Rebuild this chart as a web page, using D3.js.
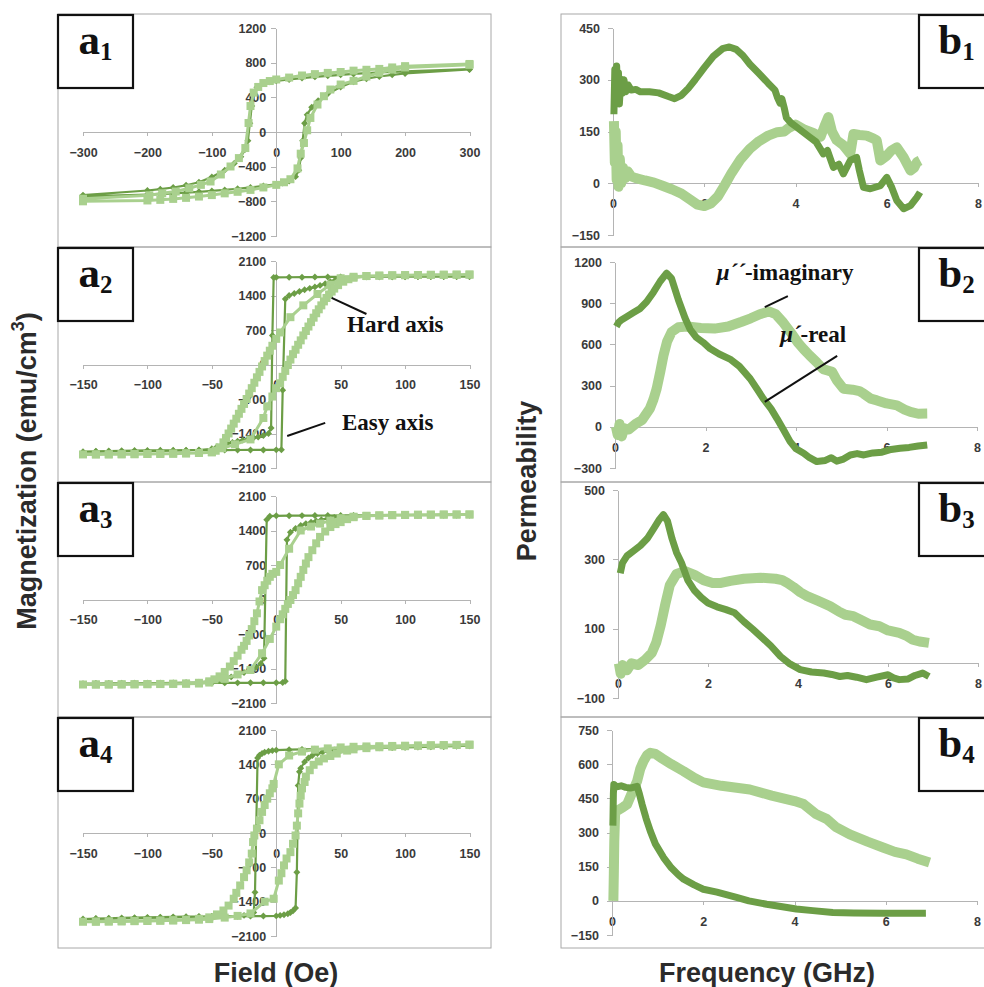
<!DOCTYPE html>
<html lang="en">
<head>
<meta charset="UTF-8">
<title>Hysteresis loops and permeability spectra</title>
<script src="https://cdn.jsdelivr.net/npm/d3@7"></script>
<style>
  body { margin: 0; background: #fff; }
  .axis path, .axis line { fill: none; stroke: #b4b4b4; shape-rendering: crispEdges; }
  .axis text { font-family: "Liberation Sans", Arial, sans-serif; font-size: 12.5px; font-weight: bold; fill: #3a3a3a; }
  .title { font-family: "Liberation Sans", Arial, sans-serif; font-weight: bold; font-size: 27px; fill: #2b2b2b; }
  .tag { font-family: "Liberation Serif", "Times New Roman", serif; font-weight: bold; fill: #111; }
  .note { font-family: "Liberation Serif", "Times New Roman", serif; font-weight: bold; font-size: 23px; fill: #111; }
</style>
</head>
<body>
<script>
// ---- tick labels ----
const a1XTicks = [-300, -200, -100, 0, 100, 200, 300]
const a1YTicks = [-1200, -800, -400, 0, 400, 800, 1200]
const aXTicks = [-150, -100, -50, 0, 50, 100, 150]
const aYTicks = [-2100, -1400, -700, 0, 700, 1400, 2100]
const bXTicks = [0, 2, 4, 6, 8]
const b1YTicks = [-150, 0, 150, 300, 450]
const b2YTicks = [-300, 0, 300, 600, 900, 1200]
const b3YTicks = [-100, 100, 300, 500]
const b4YTicks = [-150, 0, 150, 300, 450, 600, 750]

// ---- hysteresis loops [field Oe, magnetization emu/cm3] ----
// easy axis = dark diamonds, hard axis = light squares
const a1Easy = [[300,725],[200,700],[180,694],[160,687],[140,680],[120,670],[100,660],[80,648],[60,636],[40,622],[20,606],[0,590],[-10,578],[-20,558],[-30,515],[-35,440],[-38,300],[-41,100],[-44,-100],[-48,-200],[-55,-285],[-65,-360],[-80,-440],[-100,-520],[-120,-580],[-140,-615],[-160,-640],[-180,-660],[-200,-675],[-300,-728],
  [-300,-742],[-200,-722],[-180,-716],[-160,-708],[-140,-700],[-120,-690],[-100,-680],[-80,-668],[-60,-655],[-40,-640],[-20,-622],[0,-605],[10,-590],[20,-565],[30,-515],[35,-440],[38,-300],[41,-100],[44,100],[48,200],[55,285],[65,360],[80,440],[100,520],[120,580],[140,615],[160,640],[180,660],[200,675],[300,722]]
const a1Hard = [[300,785],[200,760],[180,745],[160,728],[140,718],[120,708],[100,692],[80,682],[60,668],[40,652],[20,628],[0,606],[-10,588],[-20,565],[-28,520],[-35,455],[-40,300],[-43,104],[-48,-185],[-58,-301],[-71,-398],[-86,-490],[-102,-571],[-117,-610],[-135,-649],[-156,-687],[-177,-707],[-197,-730],[-300,-770],
  [-300,-800],[-200,-790],[-180,-783],[-160,-772],[-140,-760],[-120,-745],[-100,-728],[-80,-708],[-60,-690],[-40,-668],[-20,-640],[0,-610],[12,-580],[22,-545],[33,-420],[38,-250],[43,-127],[48,20],[53,162],[64,317],[74,413],[84,490],[100,548],[120,590],[140,640],[160,683],[180,720],[200,745],[300,775]]

const a2Easy = [[150,1785],[140,1785],[130,1784],[120,1784],[110,1783],[100,1782],[90,1782],[80,1781],[70,1780],[60,1780],[50,1778],[40,1776],[30,1774],[20,1772],[10,1770],[0,1768],[-2,1765],[-3,590],[-4,-1290],[-6,-1400],[-10,-1440],[-14,-1470],[-18,-1495],[-22,-1515],[-26,-1535],[-30,-1555],[-34,-1580],[-38,-1605],[-42,-1635],[-46,-1670],[-50,-1710],[-60,-1735],[-70,-1745],[-80,-1750],[-90,-1755],[-100,-1758],[-110,-1760],[-120,-1762],[-130,-1764],[-140,-1766],[-150,-1768],
  [-140,-1760],[-130,-1755],[-120,-1750],[-110,-1746],[-100,-1743],[-90,-1741],[-80,-1740],[-70,-1739],[-60,-1738],[-50,-1737],[-40,-1736],[-30,-1735],[-20,-1734],[-10,-1733],[0,-1732],[4,-1730],[5,-520],[7,1330],[10,1400],[14,1440],[18,1480],[22,1515],[26,1545],[30,1575],[34,1605],[38,1640],[42,1680],[46,1720],[50,1750],[60,1770],[70,1778],[80,1781],[90,1782],[100,1783],[110,1784],[120,1784],[130,1785],[140,1785],[150,1785]]
const a2Hard = [[150,1825],[140,1823],[130,1821],[120,1819],[110,1816],[100,1813],[90,1809],[80,1803],[70,1795],[60,1780],[50,1750],[42,1620],[32,1430],[21,1200],[11,960],[3,650],[0,520],[-3,380],[-5,280],[-7,180],[-9,70],[-11,-40],[-13,-150],[-15,-260],[-17,-370],[-19,-480],[-21,-590],[-23,-700],[-25,-800],[-27,-900],[-29,-1000],[-31,-1100],[-33,-1200],[-35,-1300],[-37,-1400],[-39,-1490],[-41,-1580],[-44,-1680],[-47,-1750],[-50,-1780],[-60,-1795],[-70,-1803],[-80,-1809],[-90,-1813],[-100,-1816],[-110,-1819],[-120,-1821],[-130,-1823],[-140,-1824],[-150,-1825],
  [-140,-1824],[-130,-1823],[-120,-1821],[-110,-1819],[-100,-1816],[-90,-1813],[-80,-1809],[-70,-1803],[-60,-1795],[-50,-1780],[-42,-1700],[-32,-1620],[-20,-1520],[-10,-1085],[-7,-850],[-3,-650],[0,-480],[3,-380],[5,-250],[7,-130],[9,-10],[11,100],[13,210],[15,300],[17,400],[19,490],[21,590],[23,680],[25,770],[27,860],[29,950],[31,1040],[33,1120],[35,1200],[37,1280],[39,1350],[41,1420],[43,1480],[45,1540],[48,1610],[52,1680],[56,1730],[60,1760],[70,1795],[80,1803],[90,1809],[100,1813],[110,1816],[120,1819],[130,1821],[140,1823],[150,1825]]

const a3Easy = [[150,1715],[140,1714],[130,1713],[120,1712],[110,1711],[100,1710],[90,1709],[80,1708],[70,1707],[60,1706],[50,1705],[40,1704],[30,1703],[20,1702],[10,1700],[0,1698],[-5,1690],[-7.4,1620],[-9.5,-1190],[-12,-1300],[-16,-1380],[-20,-1430],[-25,-1480],[-30,-1530],[-35,-1570],[-40,-1610],[-45,-1640],[-50,-1660],[-60,-1680],[-70,-1688],[-80,-1693],[-90,-1696],[-100,-1698],[-110,-1700],[-120,-1702],[-130,-1704],[-140,-1706],[-150,-1708],
  [-140,-1705],[-130,-1703],[-120,-1701],[-110,-1699],[-100,-1698],[-90,-1697],[-80,-1696],[-70,-1695],[-60,-1694],[-50,-1693],[-40,-1692],[-30,-1691],[-20,-1690],[-10,-1690],[0,-1690],[5,-1685],[7,-1660],[8.3,1210],[11,1366],[15,1440],[19,1500],[23,1540],[27,1568],[31,1595],[35,1620],[40,1645],[45,1665],[50,1680],[60,1695],[70,1702],[80,1706],[90,1709],[100,1711],[110,1712],[120,1713],[130,1714],[140,1715],[150,1715]]
const a3Hard = [[150,1725],[140,1724],[130,1723],[120,1721],[110,1719],[100,1716],[90,1712],[80,1706],[70,1697],[60,1680],[50,1650],[42,1600],[34,1540],[27,1480],[19,1400],[10,1030],[3,700],[0,560],[-3,520],[-5,460],[-7,380],[-9,290],[-11,190],[-13,-40],[-15,-280],[-17,-440],[-19,-600],[-21,-730],[-23,-840],[-25,-940],[-27,-1020],[-30,-1140],[-33,-1250],[-36,-1360],[-40,-1470],[-44,-1560],[-48,-1620],[-52,-1660],[-60,-1690],[-70,-1706],[-80,-1712],[-90,-1716],[-100,-1719],[-110,-1721],[-120,-1723],[-130,-1724],[-140,-1725],[-150,-1725],
  [-140,-1724],[-130,-1723],[-120,-1721],[-110,-1719],[-100,-1716],[-90,-1713],[-80,-1710],[-70,-1707],[-60,-1705],[-52,-1685],[-40,-1610],[-30,-1520],[-20,-1430],[-11,-1090],[-5,-800],[0,-550],[3,-400],[5,-300],[7,-190],[9,-90],[11,-10],[13,90],[15,190],[17,330],[19,460],[21,600],[23,730],[25,860],[28,1000],[31,1140],[34,1270],[38,1380],[42,1470],[46,1530],[50,1570],[55,1630],[60,1670],[70,1697],[80,1706],[90,1712],[100,1716],[110,1719],[120,1721],[130,1723],[140,1724],[150,1725]]

const a4Easy = [[150,1780],[140,1772],[130,1765],[120,1758],[110,1752],[100,1746],[90,1740],[80,1735],[70,1730],[60,1725],[50,1720],[40,1715],[30,1710],[20,1705],[10,1698],[0,1690],[-3,1680],[-6,1665],[-9,1645],[-11,1620],[-13,1585],[-14.5,1530],[-16.5,-1210],[-17.5,-1620],[-20,-1665],[-25,-1680],[-30,-1688],[-40,-1695],[-50,-1702],[-60,-1710],[-70,-1716],[-80,-1722],[-90,-1728],[-100,-1733],[-110,-1738],[-120,-1742],[-130,-1746],[-140,-1750],[-150,-1755],
  [-140,-1745],[-130,-1738],[-120,-1732],[-110,-1726],[-100,-1720],[-90,-1715],[-80,-1710],[-70,-1706],[-60,-1703],[-50,-1700],[-40,-1698],[-30,-1696],[-20,-1695],[-10,-1693],[0,-1690],[3,-1680],[6,-1665],[9,-1645],[11,-1620],[13,-1585],[15,-1530],[16,-800],[17,970],[18,1250],[19,1320],[22,1450],[25,1530],[28,1580],[32,1620],[36,1650],[40,1675],[45,1695],[50,1710],[60,1725],[70,1735],[80,1742],[90,1748],[100,1752],[110,1756],[120,1762],[130,1768],[140,1774],[150,1780]]
const a4Hard = [[150,1800],[140,1796],[130,1792],[120,1788],[110,1784],[100,1780],[90,1775],[80,1770],[70,1765],[60,1758],[50,1745],[40,1725],[30,1700],[20,1660],[10,1580],[2,1400],[-2,1000],[-3,910],[-5,810],[-7,700],[-9,570],[-11,430],[-13,260],[-15,90],[-17,-50],[-18,-185],[-19,-420],[-21,-600],[-23,-760],[-25,-900],[-28,-1070],[-31,-1220],[-33,-1340],[-37,-1480],[-41,-1580],[-46,-1660],[-52,-1720],[-60,-1750],[-70,-1768],[-80,-1780],[-90,-1788],[-100,-1794],[-110,-1798],[-120,-1802],[-130,-1805],[-140,-1808],[-150,-1810],
  [-140,-1806],[-130,-1802],[-120,-1798],[-110,-1794],[-100,-1790],[-90,-1786],[-80,-1782],[-70,-1776],[-60,-1768],[-52,-1755],[-40,-1725],[-30,-1690],[-20,-1640],[-9,-1400],[-2,-1340],[2,-970],[4,-820],[6,-660],[8,-520],[11,-390],[13,-220],[15,-50],[16,150],[17,400],[18,600],[19,760],[20,910],[22,1040],[23,1150],[26,1280],[29,1390],[33,1460],[37,1520],[42,1570],[47,1620],[55,1680],[60,1705],[70,1730],[80,1748],[90,1760],[100,1770],[110,1778],[120,1785],[130,1790],[140,1795],[150,1800]]

// ---- permeability spectra [frequency GHz, permeability] ----
// real = dark, imaginary = light
const b1Real = [[0.02,200],[0.04,330],[0.06,240],[0.08,340],[0.1,250],[0.12,320],[0.14,230],[0.17,300],[0.2,260],[0.24,300],[0.28,265],[0.33,285],[0.4,270],[0.5,272],[0.6,265],[0.8,265],[1.0,262],[1.2,252],[1.35,245],[1.5,255],[1.65,275],[1.8,300],[2.0,335],[2.2,368],[2.4,390],[2.55,395],[2.7,388],[2.85,370],[3.0,345],[3.2,318],[3.4,290],[3.55,270],[3.6,250],[3.66,232],[3.7,245],[3.75,220],[3.8,190],[3.9,175],[4.0,165],[4.15,150],[4.3,135],[4.45,120],[4.61,85],[4.7,95],[4.83,46],[4.95,55],[5.05,27],[5.2,66],[5.34,75],[5.4,37],[5.49,-12],[5.64,-16],[5.86,-7],[6.0,17],[6.11,-12],[6.22,-50],[6.37,-74],[6.52,-65],[6.66,-41],[6.73,-26]]
const b1Imag = [[0.02,180],[0.04,60],[0.06,150],[0.08,10],[0.1,110],[0.12,-10],[0.15,70],[0.18,0],[0.22,45],[0.27,15],[0.32,35],[0.4,20],[0.5,15],[0.7,8],[0.9,2],[1.1,-8],[1.3,-18],[1.5,-30],[1.7,-48],[1.85,-62],[2.0,-66],[2.15,-58],[2.3,-38],[2.45,-5],[2.6,30],[2.8,70],[3.0,100],[3.2,122],[3.4,138],[3.6,148],[3.75,150],[3.85,160],[4.0,170],[4.2,155],[4.4,145],[4.55,135],[4.65,170],[4.72,192],[4.8,150],[4.9,125],[5.05,110],[5.2,85],[5.27,143],[5.4,140],[5.56,138],[5.7,130],[5.78,124],[5.86,66],[6.0,80],[6.1,95],[6.22,104],[6.37,75],[6.52,37],[6.6,45],[6.66,61],[6.73,66]]

const b2Real = [[0.03,730],[0.08,760],[0.15,780],[0.25,800],[0.4,830],[0.55,860],[0.7,910],[0.85,980],[1.0,1060],[1.14,1118],[1.25,1080],[1.4,925],[1.55,790],[1.66,710],[1.8,650],[1.95,614],[2.1,570],[2.3,530],[2.54,493],[2.75,440],[2.99,349],[3.15,270],[3.28,204],[3.45,130],[3.58,60],[3.72,-20],[3.87,-108],[4.0,-160],[4.17,-192],[4.3,-225],[4.46,-253],[4.65,-245],[4.78,-225],[4.9,-250],[5.05,-235],[5.2,-205],[5.35,-195],[5.5,-205],[5.7,-190],[5.9,-185],[6.1,-165],[6.3,-156],[6.5,-150],[6.7,-140],[6.9,-132]]
const b2Imag = [[0.02,0],[0.06,-60],[0.1,20],[0.15,-70],[0.2,-10],[0.3,-20],[0.45,20],[0.6,50],[0.77,132],[0.85,200],[0.92,277],[1.0,400],[1.07,517],[1.15,620],[1.25,690],[1.4,725],[1.6,730],[1.9,720],[2.2,715],[2.5,730],[2.8,765],[3.0,790],[3.2,820],[3.4,840],[3.55,820],[3.72,758],[3.9,680],[4.05,610],[4.17,565],[4.3,520],[4.46,469],[4.6,420],[4.7,410],[4.8,400],[4.9,340],[5.05,277],[5.25,270],[5.4,260],[5.5,240],[5.65,205],[5.79,192],[6.0,170],[6.23,156],[6.4,125],[6.53,108],[6.7,95],[6.9,96]]

const b3Real = [[0.05,260],[0.1,290],[0.2,310],[0.35,325],[0.5,340],[0.65,360],[0.8,390],[0.92,415],[1.01,429],[1.1,410],[1.2,360],[1.3,320],[1.41,290],[1.55,240],[1.7,210],[1.85,190],[2.0,174],[2.2,163],[2.4,155],[2.59,146],[2.8,120],[3.0,98],[3.17,78],[3.4,50],[3.61,20],[3.8,0],[4.05,-18],[4.3,-25],[4.57,-28],[4.75,-32],[4.93,-38],[5.1,-35],[5.3,-40],[5.52,-47],[5.75,-40],[6.0,-33],[6.12,-42],[6.25,-47],[6.45,-45],[6.6,-35],[6.77,-28],[6.91,-38]]
const b3Imag = [[0.02,0],[0.06,-30],[0.1,-5],[0.2,-20],[0.3,0],[0.45,-5],[0.6,10],[0.75,30],[0.85,60],[0.95,110],[1.05,170],[1.15,225],[1.3,258],[1.49,266],[1.7,255],[1.9,240],[2.1,232],[2.29,232],[2.5,238],[2.8,244],[3.17,247],[3.5,244],[3.65,240],[3.76,232],[3.9,220],[4.05,205],[4.2,194],[4.45,180],[4.71,165],[4.9,150],[5.05,140],[5.23,136],[5.4,125],[5.6,112],[5.81,107],[6.0,95],[6.25,88],[6.4,80],[6.55,68],[6.7,63],[6.91,59]]

const b4Real = [[0.02,330],[0.03,470],[0.04,511],[0.1,500],[0.2,505],[0.3,498],[0.4,495],[0.55,503],[0.6,470],[0.66,423],[0.75,360],[0.84,306],[0.95,250],[1.13,190],[1.3,145],[1.45,115],[1.57,95],[1.8,70],[2.0,51],[2.3,38],[2.73,15],[3.0,0],[3.39,-15],[3.7,-25],[4.04,-36],[4.4,-43],[4.84,-51],[5.3,-53],[5.94,-55],[6.4,-55],[6.88,-54]]
const b4Imag = [[0.03,0],[0.04,120],[0.05,260],[0.07,394],[0.15,400],[0.25,412],[0.33,423],[0.45,480],[0.55,525],[0.62,580],[0.69,613],[0.77,640],[0.84,650],[0.95,645],[1.1,625],[1.3,600],[1.57,569],[1.8,540],[2.0,520],[2.4,505],[3.02,489],[3.5,462],[4.0,438],[4.2,425],[4.48,380],[4.7,360],[4.9,325],[5.21,292],[5.6,260],[5.94,234],[6.2,215],[6.45,204],[6.7,185],[6.96,168]]

// ---- layout ----
const w = 984, h = 987
const dark = "#6c9e46", light = "#a9d08e"
const plain = d3.format("d")

const loopPanels = [
  { tag: "1", top: 14, bottom: 247, xDom: [-300, 300], yDom: [-1200, 1200], yPix: [236, 28], xTicks: a1XTicks, yTicks: a1YTicks, easy: a1Easy, hard: a1Hard },
  { tag: "2", top: 247, bottom: 482, xDom: [-150, 150], yDom: [-2100, 2100], yPix: [468, 261], xTicks: aXTicks, yTicks: aYTicks, easy: a2Easy, hard: a2Hard },
  { tag: "3", top: 482, bottom: 717, xDom: [-150, 150], yDom: [-2100, 2100], yPix: [703, 496], xTicks: aXTicks, yTicks: aYTicks, easy: a3Easy, hard: a3Hard },
  { tag: "4", top: 717, bottom: 948, xDom: [-150, 150], yDom: [-2100, 2100], yPix: [936, 730], xTicks: aXTicks, yTicks: aYTicks, easy: a4Easy, hard: a4Hard }
]
const specPanels = [
  { tag: "1", top: 14, bottom: 247, xPix: [613, 978], yDom: [-150, 450], yPix: [235, 28], yTicks: b1YTicks, real: b1Real, imag: b1Imag },
  { tag: "2", top: 247, bottom: 482, xPix: [615, 977], yDom: [-300, 1200], yPix: [468, 262], yTicks: b2YTicks, real: b2Real, imag: b2Imag },
  { tag: "3", top: 482, bottom: 717, xPix: [618, 978], yDom: [-100, 500], yPix: [698, 490], yTicks: b3YTicks, real: b3Real, imag: b3Imag },
  { tag: "4", top: 717, bottom: 948, xPix: [612, 977], yDom: [-150, 750], yPix: [935, 730], yTicks: b4YTicks, real: b4Real, imag: b4Imag }
]

const svg = d3.select("body").append("svg")
  .attr("width", w)
  .attr("height", h)

function tagBox(x, y, letter, sub) {
  svg.append("rect")
    .attr("x", x).attr("y", y + 1).attr("width", 75).attr("height", 73)
    .attr("fill", "#fff").attr("stroke", "#111").attr("stroke-width", 2.2)
  let t = svg.append("text").attr("class", "tag")
    .attr("x", x + 37.5).attr("y", y + 40)
    .attr("text-anchor", "middle")
    .attr("font-size", 43)
  t.append("tspan").text(letter)
  t.append("tspan").attr("font-size", 25).attr("dy", 6).text(sub)
}

let scales = {}

loopPanels.forEach((p, i) => {
  svg.append("rect")
    .attr("x", 58).attr("y", p.top).attr("width", 433).attr("height", p.bottom - p.top)
    .attr("fill", "none").attr("stroke", "#a8a8a8")

  let x = d3.scaleLinear().domain(p.xDom).range([83, 469.5])
  let y = d3.scaleLinear().domain(p.yDom).range(p.yPix)
  scales["a" + p.tag] = { x, y }

  svg.append("g").attr("class", "axis")
    .attr("transform", "translate(0," + y(0) + ")")
    .call(d3.axisBottom(x).tickValues(p.xTicks).tickFormat(plain).tickSizeInner(4).tickSizeOuter(0).tickPadding(12))
  svg.append("g").attr("class", "axis")
    .attr("transform", "translate(" + x(0) + ",0)")
    .call(d3.axisLeft(y).tickValues(p.yTicks).tickFormat(plain).tickSizeInner(5).tickSizeOuter(0).tickPadding(5))

  let line = d3.line().x(d => x(d[0])).y(d => y(d[1]))

  svg.append("path").datum(p.easy)
    .attr("d", line).attr("fill", "none")
    .attr("stroke", dark).attr("stroke-width", 2.2).attr("stroke-linejoin", "round")
  svg.append("g").selectAll("path")
    .data(p.easy).enter().append("path")
    .attr("d", d3.symbol(d3.symbolSquare, 24))
    .attr("transform", d => "translate(" + x(d[0]) + "," + y(d[1]) + ") rotate(45)")
    .attr("fill", dark)

  svg.append("path").datum(p.hard)
    .attr("d", line).attr("fill", "none")
    .attr("stroke", light).attr("stroke-width", 3).attr("stroke-linejoin", "round")
  svg.append("g").selectAll("path")
    .data(p.hard).enter().append("path")
    .attr("d", d3.symbol(d3.symbolSquare, 64))
    .attr("transform", d => "translate(" + x(d[0]) + "," + y(d[1]) + ")")
    .attr("fill", light)

  tagBox(58, p.top, "a", p.tag)
})

specPanels.forEach((p, i) => {
  svg.append("rect")
    .attr("x", 561).attr("y", p.top).attr("width", 440).attr("height", p.bottom - p.top)
    .attr("fill", "none").attr("stroke", "#a8a8a8")

  let x = d3.scaleLinear().domain([0, 8]).range(p.xPix)
  let y = d3.scaleLinear().domain(p.yDom).range(p.yPix)
  scales["b" + p.tag] = { x, y }

  svg.append("g").attr("class", "axis")
    .attr("transform", "translate(0," + y(0) + ")")
    .call(d3.axisBottom(x).tickValues(bXTicks).tickFormat(plain).tickSizeInner(4).tickSizeOuter(0).tickPadding(12))
  svg.append("g").attr("class", "axis")
    .attr("transform", "translate(" + x(0) + ",0)")
    .call(d3.axisLeft(y).tickValues(p.yTicks).tickFormat(plain).tickSizeInner(5).tickSizeOuter(0).tickPadding(8))

  let line = d3.line().x(d => x(d[0])).y(d => y(d[1]))

  svg.append("path").datum(p.imag)
    .attr("d", line).attr("fill", "none")
    .attr("stroke", light).attr("stroke-width", 10).attr("stroke-linejoin", "round")
  svg.append("path").datum(p.real)
    .attr("d", line).attr("fill", "none")
    .attr("stroke", dark).attr("stroke-width", 7).attr("stroke-linejoin", "round")

  tagBox(919, p.top, "b", p.tag)
})

// ---- callouts ----
function callout(s, from, to) {
  svg.append("line")
    .attr("x1", s.x(from[0])).attr("y1", s.y(from[1]))
    .attr("x2", s.x(to[0])).attr("y2", s.y(to[1]))
    .attr("stroke", "#111").attr("stroke-width", 2)
}
function note(s, at, parts) {
  let t = svg.append("text").attr("class", "note")
    .attr("x", s.x(at[0])).attr("y", s.y(at[1]))
  parts.forEach(pt => t.append("tspan").attr("font-style", pt[1] ? "italic" : "normal").text(pt[0]))
}

callout(scales.a2, [43, 1350], [70, 1025])
note(scales.a2, [55, 660], [["Hard axis", false]])
callout(scales.a2, [8.5, -1450], [38, -1185])
note(scales.a2, [51, -1330], [["Easy axis", false]])

callout(scales.b2, [3.31, 872], [3.82, 952])
note(scales.b2, [2.25, 1069], [["\u03bc\u00b4\u00b4", true], ["-imaginary", false]])
callout(scales.b2, [3.31, 181], [4.91, 516])
note(scales.b2, [3.65, 619], [["\u03bc\u00b4", true], ["-real", false]])

// ---- axis titles ----
svg.append("text").attr("class", "title")
  .attr("x", 276).attr("y", 982).attr("text-anchor", "middle")
  .text("Field (Oe)")
svg.append("text").attr("class", "title")
  .attr("x", 767).attr("y", 982).attr("text-anchor", "middle")
  .attr("font-size", 28)
  .text("Frequency (GHz)")

let mt = svg.append("text").attr("class", "title")
  .attr("transform", "translate(36,471) rotate(-90)")
  .attr("text-anchor", "middle")
  .attr("font-size", 29.5)
mt.append("tspan").text("Magnetization (emu/cm")
mt.append("tspan").attr("font-size", 18).attr("dy", -12).text("3")
mt.append("tspan").attr("dy", 12).text(")")

svg.append("text").attr("class", "title")
  .attr("transform", "translate(536,481) rotate(-90)")
  .attr("text-anchor", "middle")
  .text("Permeability")
</script>
</body>
</html>
